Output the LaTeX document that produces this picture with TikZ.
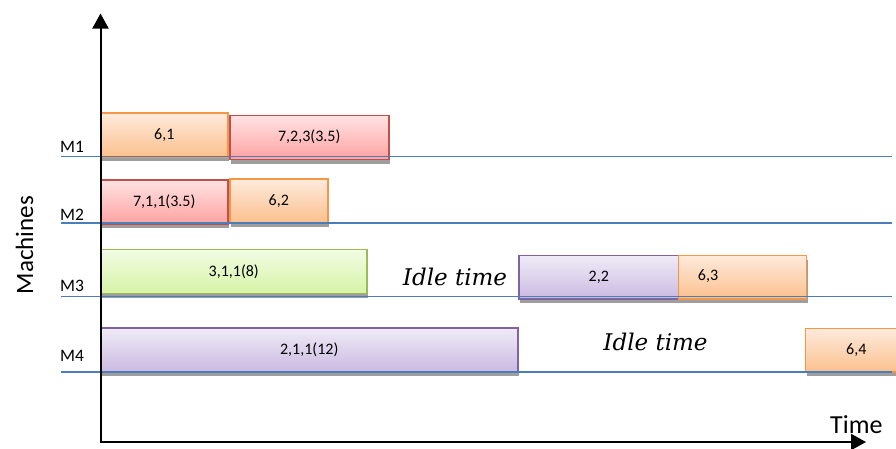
\documentclass[tikz,border=0pt]{standalone}
\usepackage{fontspec}
\setmainfont{Carlito}
\newfontfamily\idlefont{DejaVu Serif}
\usetikzlibrary{arrows.meta,shadows}
\definecolor{orBorder}{HTML}{F79646}
\definecolor{orTop}{HTML}{FEEBDC}
\definecolor{orBot}{HTML}{FBC08E}
\definecolor{rdBorder}{HTML}{C0504D}
\definecolor{rdTop}{HTML}{FFE3E3}
\definecolor{rdBot}{HTML}{FFA2A2}
\definecolor{gnBorder}{HTML}{9BBB59}
\definecolor{gnTop}{HTML}{F2FCE3}
\definecolor{gnBot}{HTML}{D6F4A6}
\definecolor{puBorder}{HTML}{8064A2}
\definecolor{puTop}{HTML}{F0EBF7}
\definecolor{puBot}{HTML}{CBBAE2}
\definecolor{mlineColor}{HTML}{4A7EBB}
\tikzset{
  job/.style={draw=#1Border, line width=1.5pt, top color=#1Top, bottom color=#1Bot,
    anchor=north west, inner sep=0pt, font=\fontsize{16}{16}\selectfont,
    drop shadow={shadow xshift=1.5pt, shadow yshift=-4.5pt, fill=black!38, opacity=1}},
  mline/.style={draw=mlineColor, line width=1.3pt},
  axis/.style={draw=black, line width=2pt, -{Triangle[length=15pt,width=16pt]}},
  mlabel/.style={anchor=base west, inner sep=0pt, font=\fontsize{17.5}{17.5}\selectfont},
  idle/.style={anchor=base, inner sep=0pt, font=\fontsize{23}{23}\selectfont\idlefont\itshape},
  boxtext/.style={inner sep=0pt, font=\fontsize{16}{16}\selectfont}
}
\begin{document}
\begin{tikzpicture}[x=1pt,y=-1pt]
\useasboundingbox (0,0) rectangle (896,448);
\clip (0,0) rectangle (896,448);
% boxes
\node[job=or, minimum width=127pt, minimum height=44pt] (b61) at (100,112) {6,1};
\node[job=rd, minimum width=159pt, minimum height=44pt] (b723) at (229,114.5) {7,2,3(3.5)};
\node[job=rd, minimum width=127pt, minimum height=44pt] (b711) at (100,179) {7,1,1(3.5)};
\node[job=or, minimum width=98pt, minimum height=44pt] (b62) at (229,178) {6,2};
\node[job=gn, minimum width=266pt, minimum height=44pt] (b311) at (100,248.5) {3,1,1(8)};
\node[job=pu, minimum width=160pt, minimum height=43.5pt] (b22) at (518,254.5) {2,2};
\node[job=or, minimum width=128pt, minimum height=43.5pt] (b63) at (677.5,254.5) {};
\node[boxtext] (t63) at (708,276) {6,3};
\node[job=pu, minimum width=417pt, minimum height=43.5pt] (b211) at (100,327) {2,1,1(12)};
\node[job=or, minimum width=102pt, minimum height=43.5pt] (b64) at (804.5,327.5) {6,4};
% machine lines
\coordinate (m1s) at (61,156.5); \coordinate (m1e) at (892,156.5);
\coordinate (m2s) at (61,223); \coordinate (m2e) at (892,223);
\coordinate (m3s) at (61,296.5); \coordinate (m3e) at (892,296.5);
\coordinate (m4s) at (61,372); \coordinate (m4e) at (892,372);
\draw[mline] (m1s) -- (m1e);
\draw[mline] (m2s) -- (m2e);
\draw[mline] (m3s) -- (m3e);
\draw[mline] (m4s) -- (m4e);
% axes
\coordinate (origin) at (100.5,442);
\coordinate (ytip) at (100.5,13.5);
\coordinate (xtip) at (866,442);
\draw[axis] (origin) -- (ytip);
\draw[axis] ([xshift=-1pt]origin) -- (xtip);
% labels
\node[mlabel] (lm1) at (60,152) {M1};
\node[mlabel] (lm2) at (60,220.5) {M2};
\node[mlabel] (lm3) at (60,291.5) {M3};
\node[mlabel] (lm4) at (60,361) {M4};
\node[rotate=90, anchor=base, inner sep=0pt, font=\fontsize{25}{25}\selectfont] (mach) at (33,245) {Machines};
\node[anchor=base west, inner sep=0pt, font=\fontsize{26}{26}\selectfont] (time) at (830,433) {Time};
\node[idle] (idle1) at (455,285) {Idle time};
\node[idle] (idle2) at (655.5,350) {Idle time};
\end{tikzpicture}
\end{document}
